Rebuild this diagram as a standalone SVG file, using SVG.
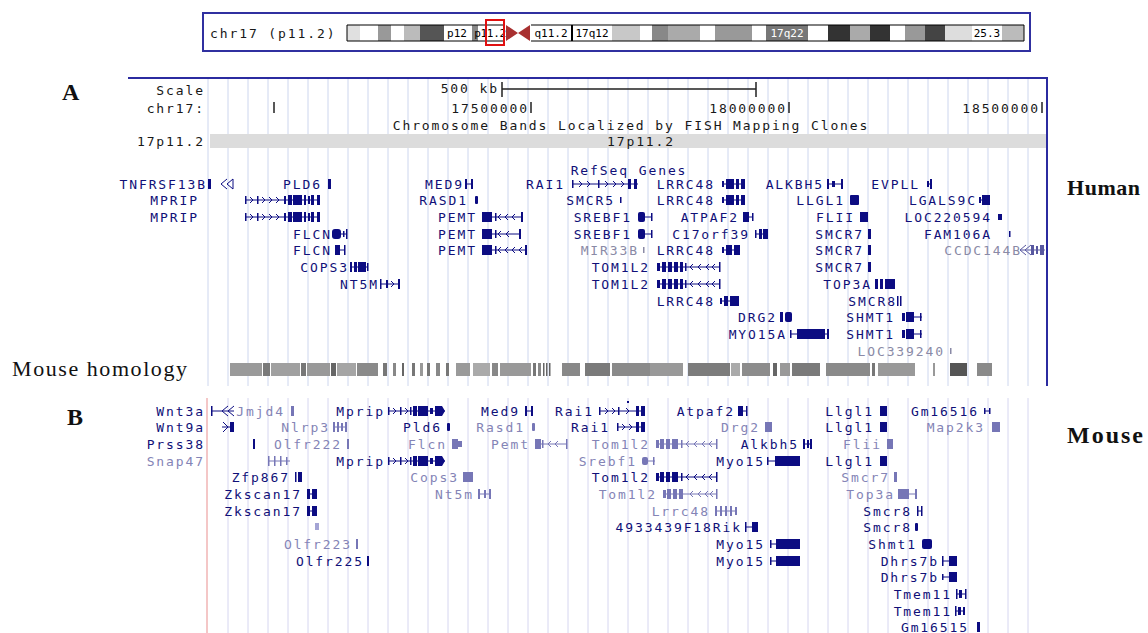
<svg xmlns="http://www.w3.org/2000/svg" width="1148" height="633" viewBox="0 0 1148 633">
<style>
.m{font-family:"DejaVu Sans Mono","Liberation Mono",monospace;font-size:13px;letter-spacing:1.9px}
.e{text-anchor:end}
.c{text-anchor:middle}
.k{fill:#181818}
.d{fill:#101078}
.hg{fill:#8a8aa6}
.mg{fill:#8484b6}
.f{fill:#0c0c82}
.fg{fill:#7676b6}
.s{stroke:#0c0c82;stroke-width:1;fill:none}
.sg{stroke:#7676b6;stroke-width:1;fill:none}
.ser{font-family:"Liberation Serif","Times New Roman",serif;fill:#111}
.id{font-family:"DejaVu Sans Mono","Liberation Mono",monospace;font-size:11px;text-anchor:middle}
</style>
<rect width="1148" height="633" fill="#ffffff"/>

<!-- ideogram -->
<g id="ideogram">
<rect x="203" y="13" width="827" height="38" fill="#fff" stroke="#3030a0" stroke-width="2"/>
<text class="m k" x="210" y="38">chr17 (p11.2)</text>
<g stroke="none">
<rect x="347" y="25" width="13" height="16" fill="#e0e0e0"/>
<rect x="360" y="25" width="18" height="16" fill="#fff"/>
<rect x="378" y="25" width="13" height="16" fill="#999"/>
<rect x="391" y="25" width="13" height="16" fill="#fff"/>
<rect x="404" y="25" width="16" height="16" fill="#bbb"/>
<rect x="420" y="25" width="24" height="16" fill="#555"/>
<rect x="444" y="25" width="28" height="16" fill="#fff"/>
<rect x="472" y="25" width="6" height="16" fill="#888"/>
<rect x="478" y="25" width="27" height="16" fill="#fff"/>
<rect x="531" y="25" width="40" height="16" fill="#fff"/>
<rect x="571" y="25" width="2" height="16" fill="#000"/>
<rect x="573" y="25" width="39" height="16" fill="#fff"/>
<rect x="612" y="25" width="28" height="16" fill="#c8c8c8"/>
<rect x="640" y="25" width="12" height="16" fill="#fff"/>
<rect x="652" y="25" width="16" height="16" fill="#888"/>
<rect x="668" y="25" width="32" height="16" fill="#aaa"/>
<rect x="700" y="25" width="15" height="16" fill="#fff"/>
<rect x="715" y="25" width="37" height="16" fill="#999"/>
<rect x="752" y="25" width="14" height="16" fill="#fff"/>
<rect x="766" y="25" width="42" height="16" fill="#777"/>
<rect x="808" y="25" width="20" height="16" fill="#fff"/>
<rect x="828" y="25" width="22" height="16" fill="#333"/>
<rect x="850" y="25" width="20" height="16" fill="#aaa"/>
<rect x="870" y="25" width="20" height="16" fill="#333"/>
<rect x="890" y="25" width="15" height="16" fill="#fff"/>
<rect x="905" y="25" width="20" height="16" fill="#999"/>
<rect x="925" y="25" width="20" height="16" fill="#444"/>
<rect x="945" y="25" width="27" height="16" fill="#ddd"/>
<rect x="972" y="25" width="30" height="16" fill="#fff"/>
<rect x="1002" y="25" width="22" height="16" fill="#bbb"/>
</g>
<path d="M347 25H505M531 25H1024V41H531M505 41H347V25" fill="none" stroke="#000" stroke-width="1"/>
<path d="M506 25L518 33L506 41ZM530 25L518 33L530 41Z" fill="#a83030"/>
<text class="id" x="457" y="37" fill="#000">p12</text>
<text class="id" x="490" y="37" fill="#000" font-size="10" letter-spacing="-0.3">p11.2</text>
<text class="id" x="551" y="37" fill="#000">q11.2</text>
<text class="id" x="592" y="37" fill="#000">17q12</text>
<text class="id" x="787" y="37" fill="#fff">17q22</text>
<text class="id" x="987" y="37" fill="#000">25.3</text>
<rect x="486" y="20" width="18" height="25" fill="none" stroke="#e01010" stroke-width="2"/>
</g>

<!-- panel A frame and grid -->
<g id="gridA" stroke="#cdd6ee" stroke-width="1">
<path d="M208 79V386M228 79V386M248 79V386M268 79V386M288 79V386M308 79V386M328 79V386M348 79V386M368 79V386M388 79V386M408 79V386M428 79V386M448 79V386M468 79V386M488 79V386M508 79V386M528 79V386M548 79V386M568 79V386M588 79V386M608 79V386M628 79V386M648 79V386M668 79V386M688 79V386M708 79V386M728 79V386M748 79V386M768 79V386M788 79V386M808 79V386M828 79V386M848 79V386M868 79V386M888 79V386M908 79V386M928 79V386M948 79V386M968 79V386M988 79V386M1008 79V386M1028 79V386"/>
</g>
<path d="M128 78H1047V386" fill="none" stroke="#2b2ba0" stroke-width="2"/>
<text class="ser" x="62" y="100" font-size="24" font-weight="bold">A</text>

<g id="scale">
<text class="m k e" x="205" y="95">Scale</text>
<text class="m k e" x="205" y="113">chr17:</text>
<text class="m k e" x="205" y="146">17p11.2</text>
<text class="m k e" x="499" y="93">500 kb</text>
<path d="M502 89H756M502 82V97M756 82V97" stroke="#222" stroke-width="1.5" fill="none"/>
<path d="M274 102V113M531 102V113M789 102V113M1042 102V113" stroke="#222" stroke-width="1.5"/>
<text class="m k e" x="529" y="113">17500000</text>
<text class="m k e" x="787" y="113">18000000</text>
<text class="m k e" x="1040" y="113">18500000</text>
<text class="m k c" x="631" y="130">Chromosome Bands Localized by FISH Mapping Clones</text>
<rect x="210" y="134" width="836" height="14" fill="#dcdcdc"/>
<text class="m k c" x="641" y="146">17p11.2</text>
</g>

<text class="m d c" x="629" y="175">RefSeq Genes</text>

<!-- human genes -->
<g id="h-TNFRSF13B"><text class="m d e" x="207" y="189">TNFRSF13B</text><rect class="f" x="208" y="179" width="3" height="10"/><path class="s" d="M227 179L221 184L227 189M233 179L227 184L233 189M233 179V189"/></g>
<g id="h-PLD6"><text class="m d e" x="322" y="189">PLD6</text><rect class="f" x="328" y="179" width="3" height="10"/></g>
<g id="h-MED9"><text class="m d e" x="464" y="189">MED9</text><rect class="f" x="465" y="179" width="2" height="10"/><rect class="f" x="471" y="179" width="2" height="10"/><path class="s" d="M467 184H471"/></g>
<g id="h-RAI1"><text class="m d e" x="565" y="189">RAI1</text><path class="s" d="M572 184H638M579 181l3 3l-3 3M587 181l3 3l-3 3M605 181l3 3l-3 3M613 181l3 3l-3 3M621 181l3 3l-3 3"/><rect class="f" x="572" y="180" width="1.5" height="8"/><rect class="f" x="598" y="180" width="1.5" height="8"/><rect class="f" x="628" y="179" width="3" height="10"/><rect class="f" x="634" y="179" width="3" height="10"/></g>
<g id="h-LRRC48-1"><text class="m d e" x="715" y="189">LRRC48</text><path class="s" d="M722 184H745"/><rect class="f" x="722" y="181" width="2" height="6"/><rect class="f" x="726" y="179" width="8" height="10"/><rect class="f" x="736" y="179" width="3" height="10"/><rect class="f" x="741" y="179" width="4" height="10"/></g>
<g id="h-ALKBH5"><text class="m d e" x="824" y="189">ALKBH5</text><path class="s" d="M827 184H843"/><rect class="f" x="827" y="179" width="2" height="10"/><rect class="f" x="832" y="181" width="3" height="6"/><rect class="f" x="841" y="179" width="2" height="10"/></g>
<g id="h-EVPLL"><text class="m d e" x="920" y="189">EVPLL</text><path class="s" d="M927 184H932"/><rect class="f" x="927" y="181" width="2" height="6"/><rect class="f" x="930" y="179" width="2" height="10"/></g>

<g id="h-MPRIP-1"><text class="m d e" x="199" y="205">MPRIP</text><path class="s" d="M245 200H320M250 197l3 3l-3 3M262 197l3 3l-3 3M269 197l3 3l-3 3M276 197l3 3l-3 3"/><rect class="f" x="245" y="196" width="1.5" height="8"/><rect class="f" x="257" y="196" width="1.5" height="8"/><rect class="f" x="284" y="196" width="2" height="8"/><rect class="f" x="288" y="195" width="4" height="10"/><rect class="f" x="293" y="195" width="9" height="10"/><rect class="f" x="304" y="195" width="2" height="10"/><rect class="f" x="308" y="196" width="2" height="8"/><rect class="f" x="311" y="195" width="3" height="10"/><rect class="f" x="317" y="195" width="3" height="10"/></g>
<g id="h-RASD1"><text class="m d e" x="468" y="205">RASD1</text><rect class="f" x="475" y="196" width="3" height="8" rx="1"/></g>
<g id="h-SMCR5"><text class="m d e" x="615" y="205">SMCR5</text><rect class="f" x="620" y="197" width="1.5" height="6"/></g>
<g id="h-LRRC48-2"><text class="m d e" x="715" y="205">LRRC48</text><path class="s" d="M722 200H745"/><rect class="f" x="722" y="197" width="2" height="6"/><rect class="f" x="726" y="195" width="8" height="10"/><rect class="f" x="736" y="195" width="3" height="10"/><rect class="f" x="741" y="195" width="4" height="10"/></g>
<g id="h-LLGL1"><text class="m d e" x="845" y="205">LLGL1</text><rect class="f" x="850" y="195" width="9" height="10" rx="1"/></g>
<g id="h-LGALS9C"><text class="m d e" x="977" y="205">LGALS9C</text><path class="s" d="M979 200H990"/><rect class="f" x="979" y="197" width="2" height="6"/><rect class="f" x="982" y="195" width="8" height="10"/></g>

<g id="h-MPRIP-2"><text class="m d e" x="199" y="222">MPRIP</text><path class="s" d="M245 217H320M250 214l3 3l-3 3M262 214l3 3l-3 3M269 214l3 3l-3 3M276 214l3 3l-3 3"/><rect class="f" x="245" y="213" width="1.5" height="8"/><rect class="f" x="257" y="213" width="1.5" height="8"/><rect class="f" x="284" y="213" width="2" height="8"/><rect class="f" x="288" y="212" width="4" height="10"/><rect class="f" x="293" y="212" width="9" height="10"/><rect class="f" x="304" y="212" width="2" height="10"/><rect class="f" x="308" y="213" width="2" height="8"/><rect class="f" x="311" y="212" width="3" height="10"/><rect class="f" x="317" y="212" width="3" height="10"/></g>
<g id="h-PEMT-1"><text class="m d e" x="477" y="222">PEMT</text><path class="s" d="M492 217H523M501 214l-3 3l3 3M508 214l-3 3l3 3M515 214l-3 3l3 3"/><rect class="f" x="482" y="212" width="10" height="10"/><rect class="f" x="495" y="213" width="1.5" height="8"/><rect class="f" x="521" y="212" width="2" height="10"/></g>
<g id="h-SREBF1-1"><text class="m d e" x="632" y="222">SREBF1</text><path class="s" d="M645 217H652"/><rect class="f" x="638" y="212" width="7" height="10" rx="2"/><rect class="f" x="651" y="213" width="1.5" height="8"/></g>
<g id="h-ATPAF2"><text class="m d e" x="739" y="222">ATPAF2</text><path class="s" d="M749 217H753"/><rect class="f" x="743" y="212" width="6" height="10"/><rect class="f" x="752" y="213" width="1.5" height="8"/></g>
<g id="h-FLII"><text class="m d e" x="855" y="222">FLII</text><rect class="f" x="860" y="212" width="8" height="10"/></g>
<g id="h-LOC220594"><text class="m d e" x="992" y="222">LOC220594</text><rect class="f" x="998" y="214" width="4" height="6"/></g>

<g id="h-FLCN-1"><text class="m d e" x="332" y="239">FLCN</text><path class="s" d="M341 234H347"/><rect class="f" x="332" y="229" width="9" height="10" rx="3"/><rect class="f" x="343" y="231" width="1.5" height="6"/><rect class="f" x="346" y="229" width="1.5" height="10"/></g>
<g id="h-PEMT-2"><text class="m d e" x="477" y="239">PEMT</text><path class="s" d="M492 234H520M501 231l-3 3l3 3M509 231l-3 3l3 3"/><rect class="f" x="482" y="229" width="10" height="10"/><rect class="f" x="495" y="230" width="1.5" height="8"/><rect class="f" x="519" y="229" width="2" height="10"/></g>
<g id="h-SREBF1-2"><text class="m d e" x="632" y="239">SREBF1</text><path class="s" d="M645 234H652"/><rect class="f" x="638" y="229" width="7" height="10" rx="2"/><rect class="f" x="651" y="230" width="1.5" height="8"/></g>
<g id="h-C17orf39"><text class="m d e" x="750" y="239">C17orf39</text><path class="s" d="M755 234H768"/><rect class="f" x="755" y="230" width="1.5" height="8"/><rect class="f" x="759" y="229" width="3" height="10"/><rect class="f" x="763" y="229" width="5" height="10"/></g>
<g id="h-SMCR7-1"><text class="m d e" x="864" y="239">SMCR7</text><rect class="f" x="868" y="229" width="3" height="10"/></g>
<g id="h-FAM106A"><text class="m d e" x="992" y="239">FAM106A</text><rect class="f" x="1009" y="231" width="1.5" height="6"/></g>

<g id="h-FLCN-2"><text class="m d e" x="332" y="255">FLCN</text><path class="s" d="M340 250H345"/><rect class="f" x="335" y="245" width="5" height="10"/><rect class="f" x="344" y="245" width="1.5" height="10"/></g>
<g id="h-PEMT-3"><text class="m d e" x="477" y="255">PEMT</text><path class="s" d="M492 250H527M501 247l-3 3l3 3M508 247l-3 3l3 3M515 247l-3 3l3 3M522 247l-3 3l3 3"/><rect class="f" x="482" y="245" width="10" height="10"/><rect class="f" x="495" y="246" width="1.5" height="8"/><rect class="f" x="525" y="245" width="2" height="10"/></g>
<g id="h-MIR33B"><text class="m hg e" x="639" y="255">MIR33B</text><rect fill="#8a8aa6" x="643" y="247" width="1.5" height="6"/></g>
<g id="h-LRRC48-3"><text class="m d e" x="715" y="255">LRRC48</text><path class="s" d="M722 250H740"/><rect class="f" x="722" y="247" width="2" height="6"/><rect class="f" x="726" y="245" width="6" height="10"/><rect class="f" x="734" y="245" width="6" height="10"/></g>
<g id="h-SMCR7-2"><text class="m d e" x="864" y="255">SMCR7</text><rect class="f" x="868" y="245" width="3" height="10"/></g>
<g id="h-CCDC144B"><text class="m hg e" x="1022" y="255">CCDC144B</text><path d="M1026 245L1020 250L1026 255M1031 245L1025 250L1031 255M1020 250H1045" stroke="#5858a0" fill="none"/><rect fill="#5858a0" x="1031" y="245" width="3" height="10"/><rect fill="#5858a0" x="1036" y="246" width="2" height="8"/><rect fill="#5858a0" x="1040" y="245" width="4" height="10"/></g>

<g id="h-COPS3"><text class="m d e" x="349" y="272">COPS3</text><path class="s" d="M350 267H368"/><rect class="f" x="350" y="262" width="2" height="10"/><rect class="f" x="354" y="262" width="3" height="10"/><rect class="f" x="358" y="262" width="8" height="10"/><rect class="f" x="367" y="263" width="1.5" height="8"/></g>
<g id="h-TOM1L2-1"><text class="m d e" x="650" y="272">TOM1L2</text><path class="s" d="M657 267H720M693 264l-3 3l3 3M701 264l-3 3l3 3M709 264l-3 3l3 3M715 264l-3 3l3 3"/><rect class="f" x="657" y="263" width="3" height="8"/><rect class="f" x="662" y="262" width="4" height="10"/><rect class="f" x="668" y="262" width="4" height="10"/><rect class="f" x="674" y="262" width="4" height="10"/><rect class="f" x="680" y="262" width="3" height="10"/><rect class="f" x="685" y="263" width="1.5" height="8"/><rect class="f" x="719" y="262" width="1.5" height="10"/></g>
<g id="h-SMCR7-3"><text class="m d e" x="864" y="272">SMCR7</text><rect class="f" x="868" y="262" width="3" height="10"/></g>

<g id="h-NT5M"><text class="m d e" x="379" y="289">NT5M</text><path class="s" d="M380 284H400M391 281l3 3l-3 3"/><rect class="f" x="380" y="279" width="1.5" height="10"/><rect class="f" x="386" y="280" width="2" height="8"/><rect class="f" x="398" y="279" width="2" height="10"/></g>
<g id="h-TOM1L2-2"><text class="m d e" x="650" y="289">TOM1L2</text><path class="s" d="M657 284H720M693 281l-3 3l3 3M701 281l-3 3l3 3M709 281l-3 3l3 3M715 281l-3 3l3 3"/><rect class="f" x="657" y="280" width="3" height="8"/><rect class="f" x="662" y="279" width="4" height="10"/><rect class="f" x="668" y="279" width="4" height="10"/><rect class="f" x="674" y="279" width="4" height="10"/><rect class="f" x="680" y="279" width="3" height="10"/><rect class="f" x="685" y="280" width="1.5" height="8"/><rect class="f" x="719" y="279" width="1.5" height="10"/></g>
<g id="h-TOP3A"><text class="m d e" x="872" y="289">TOP3A</text><rect class="f" x="875" y="279" width="3" height="10"/><rect class="f" x="880" y="279" width="3" height="10"/><rect class="f" x="885" y="279" width="10" height="10"/></g>

<g id="h-LRRC48-4"><text class="m d e" x="715" y="306">LRRC48</text><path class="s" d="M720 301H739"/><rect class="f" x="720" y="298" width="2" height="6"/><rect class="f" x="724" y="296" width="4" height="10"/><rect class="f" x="730" y="296" width="9" height="10"/></g>
<g id="h-SMCR8"><text class="m d e" x="897" y="306">SMCR8</text><rect class="f" x="897" y="296" width="1.5" height="10"/><rect class="f" x="900" y="296" width="1.5" height="10"/></g>

<g id="h-DRG2"><text class="m d e" x="777" y="322">DRG2</text><rect class="f" x="780" y="312" width="3" height="10"/><rect class="f" x="785" y="312" width="7" height="10" rx="2"/></g>
<g id="h-SHMT1-1"><text class="m d e" x="895" y="322">SHMT1</text><path class="s" d="M914 317H922"/><rect class="f" x="902" y="313" width="3" height="8"/><rect class="f" x="906" y="312" width="8" height="10"/><rect class="f" x="920" y="313" width="1.5" height="8"/></g>

<g id="h-MYO15A"><text class="m d e" x="787" y="339">MYO15A</text><path class="s" d="M790 334H828"/><rect class="f" x="790" y="330" width="1.5" height="8"/><rect class="f" x="797" y="329" width="28" height="10"/><rect class="f" x="827" y="329" width="2" height="10"/></g>
<g id="h-SHMT1-2"><text class="m d e" x="895" y="339">SHMT1</text><path class="s" d="M914 334H922"/><rect class="f" x="902" y="330" width="3" height="8"/><rect class="f" x="906" y="329" width="8" height="10"/><rect class="f" x="920" y="330" width="1.5" height="8"/></g>

<g id="h-LOC339240"><text class="m hg e" x="945" y="356">LOC339240</text><rect fill="#8a8aa6" x="950" y="348" width="1.5" height="6"/></g>

<text class="ser" x="1067" y="195" font-size="22" font-weight="bold" textLength="73">Human</text>

<!-- mouse homology -->
<g id="mouse-homology">
<text class="ser" x="12" y="376" font-size="22" textLength="175">Mouse homology</text>
<rect x="230" y="363" width="32" height="13" fill="#9a9a9a"/>
<rect x="263" y="363" width="7" height="13" fill="#7a7a7a"/>
<rect x="271" y="363" width="29" height="13" fill="#a0a0a0"/>
<rect x="301" y="363" width="5" height="13" fill="#777"/>
<rect x="307" y="363" width="23" height="13" fill="#999"/>
<rect x="331" y="363" width="5" height="13" fill="#666"/>
<rect x="337" y="363" width="19" height="13" fill="#a5a5a5"/>
<rect x="357" y="363" width="21" height="13" fill="#8a8a8a"/>
<rect x="383" y="363" width="4" height="13" fill="#777"/>
<rect x="393" y="363" width="3" height="13" fill="#888"/>
<rect x="402" y="363" width="2" height="13" fill="#666"/>
<rect x="412" y="363" width="3" height="13" fill="#777"/>
<rect x="420" y="363" width="3" height="13" fill="#999"/>
<rect x="427" y="363" width="3" height="13" fill="#777"/>
<rect x="436" y="363" width="4" height="13" fill="#888"/>
<rect x="446" y="363" width="3" height="13" fill="#777"/>
<rect x="456" y="363" width="14" height="13" fill="#9a9a9a"/>
<rect x="473" y="363" width="17" height="13" fill="#aaa"/>
<rect x="492" y="363" width="6" height="13" fill="#888"/>
<rect x="500" y="363" width="31" height="13" fill="#999"/>
<rect x="533" y="363" width="3" height="13" fill="#777"/>
<rect x="538" y="363" width="3" height="13" fill="#888"/>
<rect x="543" y="363" width="1.5" height="13" fill="#666"/>
<rect x="546" y="363" width="1.5" height="13" fill="#666"/>
<rect x="549" y="363" width="1.5" height="13" fill="#666"/>
<rect x="562" y="363" width="18" height="13" fill="#888"/>
<rect x="585" y="363" width="25" height="13" fill="#7a7a7a"/>
<rect x="612" y="363" width="38" height="13" fill="#8a8a8a"/>
<rect x="650" y="363" width="33" height="13" fill="#999"/>
<rect x="688" y="363" width="42" height="13" fill="#7c7c7c"/>
<rect x="731" y="363" width="9" height="13" fill="#aaa"/>
<rect x="742" y="363" width="28" height="13" fill="#8c8c8c"/>
<rect x="773" y="363" width="4" height="13" fill="#666"/>
<rect x="780" y="363" width="10" height="13" fill="#999"/>
<rect x="792" y="363" width="28" height="13" fill="#7a7a7a"/>
<rect x="826" y="363" width="44" height="13" fill="#8a8a8a"/>
<rect x="872" y="363" width="3" height="13" fill="#777"/>
<rect x="878" y="363" width="37" height="13" fill="#999"/>
<rect x="933" y="363" width="2" height="13" fill="#999"/>
<rect x="950" y="363" width="17" height="13" fill="#555"/>
<rect x="977" y="363" width="15" height="13" fill="#8a8a8a"/>
</g>

<!-- panel B grid -->
<g id="gridB" stroke="#d6d6f0" stroke-width="1">
<path d="M228 398V633M248 398V633M268 398V633M288 398V633M308 398V633M328 398V633M348 398V633M368 398V633M388 398V633M408 398V633M428 398V633M448 398V633M468 398V633M488 398V633M508 398V633M528 398V633M548 398V633M568 398V633M588 398V633M608 398V633M628 398V633M648 398V633M668 398V633M688 398V633M708 398V633M728 398V633M748 398V633M768 398V633M788 398V633M808 398V633M828 398V633M848 398V633M868 398V633M888 398V633M908 398V633M928 398V633M948 398V633M968 398V633M988 398V633M1008 398V633M1028 398V633"/>
</g>
<path d="M207 398V633" stroke="#f0b4b4" stroke-width="1.5"/>
<text class="ser" x="67" y="425" font-size="24" font-weight="bold">B</text>
<text class="ser" x="1067" y="443" font-size="24" font-weight="bold" textLength="76">Mouse</text>

<!-- mouse genes -->
<g id="m-Wnt3a"><text class="m d e" x="205" y="416">Wnt3a</text><rect class="f" x="211" y="406" width="1.5" height="10"/><path class="s" d="M211 411H234M228 406L222 411L228 416M234 406L228 411L234 416"/></g>
<g id="m-Jmjd4"><text class="m mg e" x="285" y="416">Jmjd4</text><rect class="fg" x="291" y="406" width="3" height="10"/></g>
<g id="m-Mprip-1"><text class="m d e" x="385" y="416">Mprip</text><path class="s" d="M388 411H445M393 408l3 3l-3 3M405 408l3 3l-3 3"/><rect class="f" x="388" y="407" width="1.5" height="8"/><rect class="f" x="400" y="407" width="1.5" height="8"/><rect class="f" x="410" y="407" width="1.5" height="8"/><rect class="f" x="413" y="406" width="4" height="10"/><rect class="f" x="418" y="406" width="10" height="10"/><rect class="f" x="430" y="408" width="3" height="6"/><path class="f" d="M435 406H442L445 411L442 416H435Z"/></g>
<g id="m-Med9"><text class="m d e" x="520" y="416">Med9</text><path class="s" d="M527 411H531"/><rect class="f" x="525" y="406" width="2" height="10"/><rect class="f" x="531" y="406" width="2" height="10"/></g>
<g id="m-Rai1-1"><text class="m d e" x="594" y="416">Rai1</text><path class="s" d="M599 411H645M605 408l3 3l-3 3M612 408l3 3l-3 3M626 408l3 3l-3 3"/><rect class="f" x="599" y="407" width="1.5" height="8"/><rect class="f" x="618" y="407" width="1.5" height="8"/><rect class="f" x="636" y="406" width="3" height="10"/><rect class="f" x="641" y="406" width="4" height="10"/><rect class="f" x="627" y="401" width="2" height="2"/></g>
<g id="m-Atpaf2"><text class="m d e" x="735" y="416">Atpaf2</text><path class="s" d="M743 411H747"/><rect class="f" x="738" y="406" width="5" height="10"/><rect class="f" x="746" y="406" width="1.5" height="10"/></g>
<g id="m-Llgl1-1"><text class="m d e" x="874" y="416">Llgl1</text><rect class="f" x="880" y="406" width="7" height="10"/></g>
<g id="m-Gm16516"><text class="m d e" x="979" y="416">Gm16516</text><path class="s" d="M984 411H990"/><rect class="f" x="984" y="408" width="1.5" height="6"/><rect class="f" x="989" y="408" width="1.5" height="6"/></g>

<g id="m-Wnt9a"><text class="m d e" x="205" y="432">Wnt9a</text><path class="s" d="M222 427H234M223 422L228 427L223 432"/><rect class="f" x="230" y="422" width="4" height="10"/></g>
<g id="m-Nlrp3"><text class="m mg e" x="330" y="432">Nlrp3</text><path class="sg" d="M333 427H347"/><rect class="fg" x="333" y="422" width="2" height="10"/><rect class="fg" x="337" y="422" width="2" height="10"/><rect class="fg" x="341" y="423" width="2" height="8"/><rect class="fg" x="345" y="422" width="2" height="10"/></g>
<g id="m-Pld6"><text class="m d e" x="442" y="432">Pld6</text><rect class="f" x="447" y="423" width="3" height="8" rx="1"/></g>
<g id="m-Rasd1"><text class="m mg e" x="525" y="432">Rasd1</text><rect class="fg" x="532" y="423" width="3" height="8" rx="1"/></g>
<g id="m-Rai1-2"><text class="m d e" x="610" y="432">Rai1</text><path class="s" d="M617 427H645M622 424l3 3l-3 3M629 424l3 3l-3 3"/><rect class="f" x="617" y="423" width="1.5" height="8"/><rect class="f" x="636" y="422" width="3" height="10"/><rect class="f" x="641" y="422" width="4" height="10"/></g>
<g id="m-Drg2"><text class="m mg e" x="760" y="432">Drg2</text><rect class="fg" x="765" y="422" width="7" height="10"/></g>
<g id="m-Llgl1-2"><text class="m d e" x="874" y="432">Llgl1</text><rect class="f" x="880" y="422" width="7" height="10"/></g>
<g id="m-Map2k3"><text class="m mg e" x="985" y="432">Map2k3</text><rect class="fg" x="992" y="422" width="8" height="10"/></g>

<g id="m-Prss38"><text class="m d e" x="205" y="449">Prss38</text><rect class="f" x="253" y="439" width="2" height="10"/></g>
<g id="m-Olfr222"><text class="m mg e" x="342" y="449">Olfr222</text><rect class="fg" x="347" y="439" width="2" height="10"/></g>
<g id="m-Flcn"><text class="m mg e" x="447" y="449">Flcn</text><rect class="fg" x="452" y="439" width="6" height="10"/><rect class="fg" x="458" y="441" width="4" height="6"/></g>
<g id="m-Pemt"><text class="m mg e" x="530" y="449">Pemt</text><path class="sg" d="M541 444H567M551 441l-3 3l3 3M558 441l-3 3l3 3"/><rect class="fg" x="535" y="439" width="6" height="10"/><rect class="fg" x="542" y="440" width="1.5" height="8"/><rect class="fg" x="566" y="439" width="1.5" height="10"/></g>
<g id="m-Tom1l2-1"><text class="m mg e" x="650" y="449">Tom1l2</text><path class="sg" d="M656 444H717M689 441l-3 3l3 3M697 441l-3 3l3 3M705 441l-3 3l3 3M712 441l-3 3l3 3"/><rect class="fg" x="656" y="440" width="3" height="8"/><rect class="fg" x="660" y="439" width="4" height="10"/><rect class="fg" x="666" y="439" width="4" height="10"/><rect class="fg" x="672" y="439" width="6" height="10"/><rect class="fg" x="681" y="440" width="1.5" height="8"/><rect class="fg" x="716" y="439" width="1.5" height="10"/></g>
<g id="m-Alkbh5"><text class="m d e" x="799" y="449">Alkbh5</text><path class="s" d="M803 444H812"/><rect class="f" x="803" y="439" width="2" height="10"/><rect class="f" x="807" y="440" width="2" height="8"/><rect class="f" x="810" y="439" width="2" height="10"/></g>
<g id="m-Flii"><text class="m mg e" x="882" y="449">Flii</text><rect class="fg" x="887" y="439" width="6" height="10"/></g>

<g id="m-Snap47"><text class="m mg e" x="205" y="466">Snap47</text><path class="sg" d="M268 461H290"/><rect class="fg" x="268" y="456" width="1.5" height="10"/><rect class="fg" x="274" y="456" width="1.5" height="10"/><rect class="fg" x="280" y="456" width="1.5" height="10"/><rect class="fg" x="286" y="457" width="1.5" height="8"/></g>
<g id="m-Mprip-2"><text class="m d e" x="385" y="466">Mprip</text><path class="s" d="M388 461H445M393 458l3 3l-3 3M405 458l3 3l-3 3"/><rect class="f" x="388" y="457" width="1.5" height="8"/><rect class="f" x="400" y="457" width="1.5" height="8"/><rect class="f" x="410" y="457" width="1.5" height="8"/><rect class="f" x="413" y="456" width="4" height="10"/><rect class="f" x="418" y="456" width="10" height="10"/><rect class="f" x="430" y="458" width="3" height="6"/><path class="f" d="M435 456H442L445 461L442 466H435Z"/></g>
<g id="m-Srebf1"><text class="m mg e" x="637" y="466">Srebf1</text><path class="sg" d="M648 461H655"/><rect class="fg" x="642" y="457" width="6" height="8" rx="2"/><rect class="fg" x="653" y="457" width="1.5" height="8"/></g>
<g id="m-Myo15-1"><text class="m d e" x="765" y="466">Myo15</text><path class="s" d="M767 461H775"/><rect class="f" x="767" y="457" width="1.5" height="8"/><rect class="f" x="775" y="456" width="25" height="10"/></g>
<g id="m-Llgl1-3"><text class="m d e" x="874" y="466">Llgl1</text><rect class="f" x="880" y="456" width="7" height="10"/></g>

<g id="m-Zfp867"><text class="m d e" x="290" y="482">Zfp867</text><rect class="f" x="295" y="472" width="1.5" height="10"/><rect class="f" x="298" y="472" width="4" height="10"/></g>
<g id="m-Cops3"><text class="m mg e" x="459" y="482">Cops3</text><rect class="fg" x="463" y="472" width="10" height="10"/></g>
<g id="m-Tom1l2-2"><text class="m d e" x="650" y="482">Tom1l2</text><path class="s" d="M656 477H717M689 474l-3 3l3 3M697 474l-3 3l3 3M705 474l-3 3l3 3M712 474l-3 3l3 3"/><rect class="f" x="656" y="473" width="3" height="8"/><rect class="f" x="660" y="472" width="4" height="10"/><rect class="f" x="666" y="472" width="4" height="10"/><rect class="f" x="672" y="472" width="6" height="10"/><rect class="f" x="681" y="473" width="1.5" height="8"/><rect class="f" x="716" y="472" width="1.5" height="10"/></g>
<g id="m-Smcr7"><text class="m mg e" x="890" y="482">Smcr7</text><rect class="fg" x="894" y="472" width="3" height="10"/></g>

<g id="m-Zkscan17-1"><text class="m d e" x="302" y="499">Zkscan17</text><path class="s" d="M310 494H312"/><rect class="f" x="307" y="489" width="3" height="10"/><rect class="f" x="312" y="489" width="5" height="10"/></g>
<g id="m-Nt5m"><text class="m mg e" x="474" y="499">Nt5m</text><path class="sg" d="M478 494H491"/><rect class="fg" x="478" y="489" width="2" height="10"/><rect class="fg" x="484" y="490" width="2" height="8"/><rect class="fg" x="489" y="489" width="2" height="10"/></g>
<g id="m-Tom1l2-3"><text class="m mg e" x="657" y="499">Tom1l2</text><path class="sg" d="M663 494H717M693 491l-3 3l3 3M701 491l-3 3l3 3M708 491l-3 3l3 3M713 491l-3 3l3 3"/><rect class="fg" x="663" y="490" width="3" height="8"/><rect class="fg" x="667" y="489" width="4" height="10"/><rect class="fg" x="673" y="489" width="4" height="10"/><rect class="fg" x="679" y="489" width="4" height="10"/><rect class="fg" x="716" y="489" width="1.5" height="10"/></g>
<g id="m-Top3a"><text class="m mg e" x="895" y="499">Top3a</text><path class="sg" d="M909 494H917"/><rect class="fg" x="898" y="489" width="11" height="10"/><rect class="fg" x="915" y="489" width="2" height="10"/></g>

<g id="m-Zkscan17-2"><text class="m d e" x="302" y="516">Zkscan17</text><path class="s" d="M310 511H312"/><rect class="f" x="307" y="506" width="3" height="10"/><rect class="f" x="312" y="506" width="5" height="10"/></g>
<g id="m-Lrrc48"><text class="m mg e" x="710" y="516">Lrrc48</text><path class="sg" d="M715 511H737"/><rect class="fg" x="715" y="506" width="2" height="10"/><rect class="fg" x="720" y="506" width="2" height="10"/><rect class="fg" x="725" y="506" width="2" height="10"/><rect class="fg" x="730" y="506" width="2" height="10"/><rect class="fg" x="735" y="507" width="2" height="8"/></g>
<g id="m-Smcr8-1"><text class="m d e" x="912" y="516">Smcr8</text><path class="s" d="M917 511H922"/><rect class="f" x="917" y="506" width="1.5" height="10"/><rect class="f" x="921" y="506" width="1.5" height="10"/></g>

<g id="m-unlabeled"><rect fill="#a4a4d4" x="315" y="523" width="4" height="7"/></g>
<g id="m-4933439F18Rik"><text class="m d e" x="742" y="532">4933439F18Rik</text><path class="s" d="M745 527H752"/><rect class="f" x="745" y="522" width="1.5" height="10"/><rect class="f" x="752" y="522" width="6" height="10"/></g>
<g id="m-Smcr8-2"><text class="m d e" x="912" y="532">Smcr8</text><rect class="f" x="915" y="523" width="3" height="8" rx="1"/></g>

<g id="m-Olfr223"><text class="m mg e" x="352" y="549">Olfr223</text><rect class="fg" x="356" y="539" width="2" height="10"/></g>
<g id="m-Myo15-2"><text class="m d e" x="765" y="549">Myo15</text><path class="s" d="M770 544H776"/><rect class="f" x="770" y="540" width="1.5" height="8"/><rect class="f" x="776" y="539" width="24" height="10"/></g>
<g id="m-Shmt1"><text class="m d e" x="917" y="549">Shmt1</text><rect class="f" x="922" y="539" width="10" height="10" rx="2"/></g>

<g id="m-Olfr225"><text class="m d e" x="364" y="566">Olfr225</text><rect class="f" x="367" y="556" width="2" height="10"/></g>
<g id="m-Myo15-3"><text class="m d e" x="765" y="566">Myo15</text><path class="s" d="M770 561H776"/><rect class="f" x="770" y="557" width="1.5" height="8"/><rect class="f" x="776" y="556" width="24" height="10"/></g>
<g id="m-Dhrs7b-1"><text class="m d e" x="939" y="566">Dhrs7b</text><path class="s" d="M942 561H949"/><rect class="f" x="942" y="556" width="1.5" height="10"/><rect class="f" x="949" y="556" width="8" height="10"/></g>

<g id="m-Dhrs7b-2"><text class="m d e" x="939" y="582">Dhrs7b</text><path class="s" d="M942 577H949"/><rect class="f" x="942" y="574" width="1.5" height="6"/><rect class="f" x="949" y="572" width="8" height="10"/></g>
<g id="m-Tmem11-1"><text class="m d e" x="952" y="599">Tmem11</text><path class="s" d="M956 594H966"/><rect class="f" x="956" y="589" width="1.5" height="10"/><rect class="f" x="959" y="590" width="3" height="8"/><rect class="f" x="965" y="589" width="1.5" height="10"/></g>
<g id="m-Tmem11-2"><text class="m d e" x="952" y="616">Tmem11</text><path class="s" d="M955 611H965"/><rect class="f" x="955" y="606" width="1.5" height="10"/><rect class="f" x="958" y="607" width="3" height="8"/><rect class="f" x="963" y="607" width="2" height="8"/></g>
<g id="m-Gm16515"><text class="m d e" x="969" y="632">Gm16515</text><rect class="f" x="977" y="622" width="3" height="10"/></g>

<g id="connectors"/>
</svg>
